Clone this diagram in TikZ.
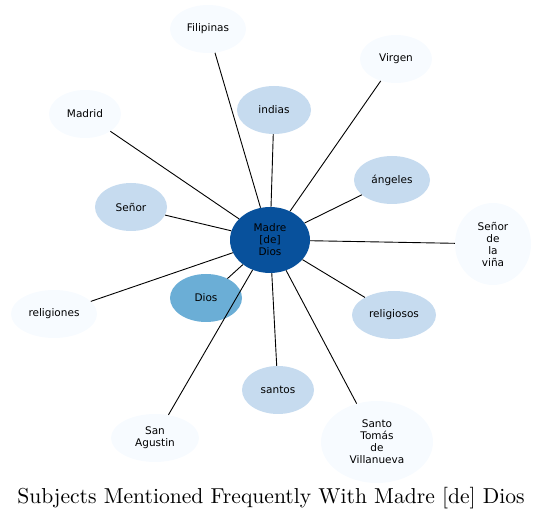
\documentclass[tikz,border=0pt]{standalone}
\usepackage{fontspec}
\newfontfamily\dejavu{DejaVu Sans}
\newfontfamily\titlefont{lmroman10-regular}[Extension=.otf]
\usepackage{tikz}
\usetikzlibrary{
	shapes.geometric
}
\definecolor{BlueDark}{HTML}{08519C}
\definecolor{BlueMid}{HTML}{6BAED6}
\definecolor{BlueLight}{HTML}{C6DBEF}
\definecolor{BlueFaint}{HTML}{F7FBFF}

\begin{document}
\begin{tikzpicture}[x=1pt,y=1pt,
		subj/.style={ellipse,inner sep=0pt,align=center,
			font=\dejavu\fontsize{10.5}{12}\selectfont,
			minimum width=72pt,minimum height=48pt},
		link/.style={line width=0.9pt}]
		\useasboundingbox (0,0) rectangle (544,520);
		% centre
		\node[subj,fill=BlueDark,minimum width=80pt,minimum height=66pt] (madre) at (270,280) {Madre\\{[de]}\\Dios};
		% subjects
		\node[subj,fill=BlueFaint,minimum width=76pt] (filipinas) at (208,491) {Filipinas};
		\node[subj,fill=BlueFaint] (virgen) at (396,461) {Virgen};
		\node[subj,fill=BlueLight,minimum width=74pt] (indias) at (274,410) {indias};
		\node[subj,fill=BlueFaint] (madrid) at (85,406) {Madrid};
		\node[subj,fill=BlueLight,minimum width=76pt] (angeles) at (392,340) {ángeles};
		\node[subj,fill=BlueLight] (senor) at (131,313) {Señor};
		\node[subj,fill=BlueFaint,minimum width=76pt,minimum height=82pt] (vina) at (493,276) {Señor\\de\\la\\viña};
		\node[subj,fill=BlueFaint,minimum width=86pt] (religiones) at (54,206) {religiones};
		\node[subj,fill=BlueMid] (dios) at (206,222) {Dios};
		\node[subj,fill=BlueLight,minimum width=84pt] (religiosos) at (394,205) {religiosos};
		\node[subj,fill=BlueLight] (santos) at (278,130) {santos};
		\node[subj,fill=BlueFaint,minimum width=88pt] (agustin) at (155,82) {San\\Agustin};
		\node[subj,fill=BlueFaint,minimum width=112pt,minimum height=82pt] (tomas) at (377,78) {Santo\\Tomás\\de\\Villanueva};
		% links
		\foreach \n in {filipinas,virgen,indias,madrid,angeles,senor,vina,religiones,dios,religiosos,santos,agustin,tomas}
			\draw[link] (madre) -- (\n);
		% title
		\node[font=\titlefont\fontsize{21.6}{26}\selectfont] (title) at (271,22) {Subjects Mentioned Frequently With Madre [de] Dios};
	\end{tikzpicture}
\end{document}
